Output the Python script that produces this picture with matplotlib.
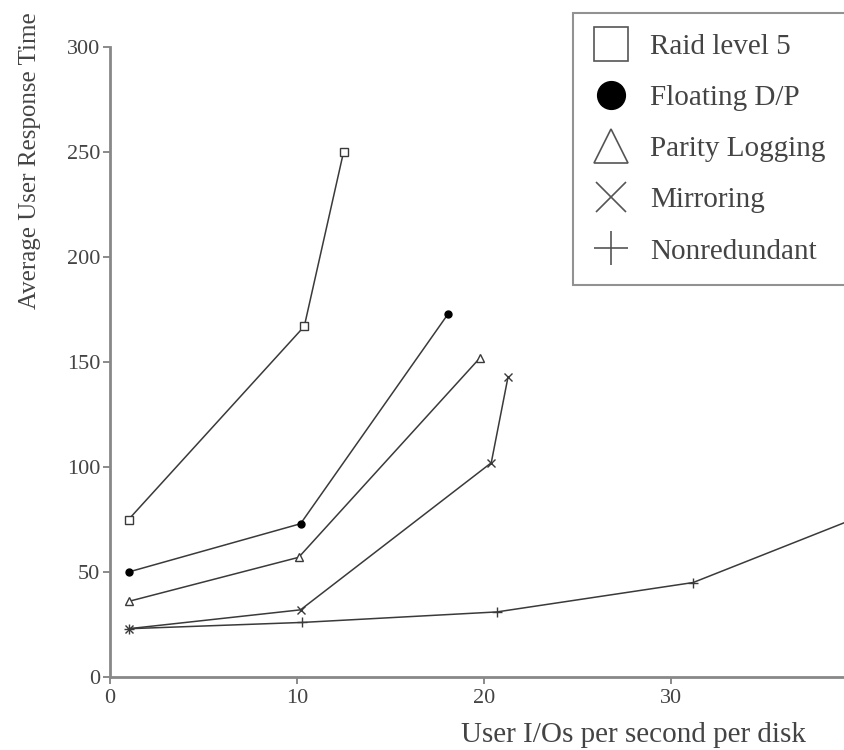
import matplotlib
matplotlib.use("Agg")
import matplotlib.pyplot as plt
from matplotlib.lines import Line2D

# data
raid5_x = [1, 10.4, 12.5]
raid5_y = [75, 167, 250]
floating_x = [1, 10.2, 18.1]
floating_y = [50, 73, 173]
parity_x = [1, 10.1, 19.8]
parity_y = [36, 57, 152]
mirror_x = [1, 10.2, 20.4, 21.3]
mirror_y = [23, 32, 102, 143]
nonred_x = [1, 10.3, 20.7, 31.2, 40]
nonred_y = [23, 26, 31, 45, 76]

labels = ["Raid level 5", "Floating D/P", "Parity Logging", "Mirroring", "Nonredundant"]
xticks = [0, 10, 20, 30, 40]
yticks = [0, 50, 100, 150, 200, 250, 300]

plt.rcParams["font.family"] = ["Liberation Serif", "DejaVu Serif"]
txt = "#444444"
ln = "#3a3a3a"

fig = plt.figure(figsize=(8.45, 7.5), dpi=100)
# axes runs off the right side like the scan
ax = fig.add_axes([0.130, 0.0973, 0.885, 0.84])

ax.plot(raid5_x, raid5_y, color=ln, lw=1.1, marker="s", ms=6, mfc="white", mec=ln)
ax.plot(floating_x, floating_y, color=ln, lw=1.1, marker="o", ms=5, mfc="black", mec="black")
ax.plot(parity_x, parity_y, color=ln, lw=1.1, marker="^", ms=6, mfc="white", mec=ln)
ax.plot(mirror_x, mirror_y, color=ln, lw=1.1, marker="x", ms=6, mec=ln)
ax.plot(nonred_x, nonred_y, color=ln, lw=1.1, marker="+", ms=7, mec=ln, clip_on=False)

ax.set_xlim(0, 40)
ax.set_ylim(0, 300)
ax.set_xticks(xticks)
ax.set_yticks(yticks)
ax.tick_params(labelsize=16, colors="#777777", labelcolor=txt, length=5, width=1.2)
ax.tick_params(axis="y", pad=2)

for s in ["top", "right"]:
    ax.spines[s].set_visible(False)
for s in ["left", "bottom"]:
    ax.spines[s].set_color("#888888")
    ax.spines[s].set_linewidth(2)

ax.set_xlabel("User I/Os per second per disk", fontsize=21, color=txt)
ax.xaxis.set_label_coords(0.70, -0.072)
ax.set_ylabel("Average User Response Time", fontsize=18, color=txt)
ax.yaxis.set_label_coords(-0.092, 0.82)

handles = [
    Line2D([], [], ls="none", marker="s", ms=25, mfc="white", mec="#555555", mew=1.2),
    Line2D([], [], ls="none", marker="o", ms=20, mfc="black", mec="black"),
    Line2D([], [], ls="none", marker="^", ms=25, mfc="white", mec="#555555", mew=1.2),
    Line2D([], [], ls="none", marker="x", ms=22, mec="#555555", mew=1.2),
    Line2D([], [], ls="none", marker="+", ms=25, mec="#555555", mew=1.2),
]
leg = ax.legend(handles, labels, loc="upper left", bbox_to_anchor=(0.619, 1.054),
                fontsize=21, frameon=True, fancybox=False, labelspacing=0.85,
                handlelength=1.2, handletextpad=0.75, borderpad=0.7, borderaxespad=0)
leg.get_frame().set_edgecolor("#777777")
leg.get_frame().set_linewidth(1.5)
for t in leg.get_texts():
    t.set_color(txt)

fig.savefig("out.png", dpi=100)
